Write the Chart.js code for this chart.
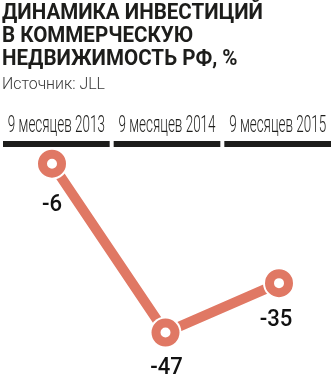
<!DOCTYPE html>
<html>
<head>
<meta charset="utf-8">
<script src="https://cdn.jsdelivr.net/npm/chart.js@4"></script>
<style>
  html, body { margin: 0; padding: 0; background: #fff; }
  #wrap { width: 335px; height: 384px; position: relative; }
</style>
</head>
<body>
<div id="wrap"><canvas id="chart" width="335" height="384"></canvas></div>
<script>
// данные графика
const categories = ['9 месяцев 2013', '9 месяцев 2014', '9 месяцев 2015'];
const investChange = [-6, -47, -35];
const titleLines = ['ДИНАМИКА ИНВЕСТИЦИЙ', 'В КОММЕРЧЕСКУЮ', 'НЕДВИЖИМОСТЬ РФ, %'];
const sourceText = 'Источник: JLL';

const ORANGE = '#e07864';
const INK = '#1d1d1b';

// текст, сжатый по горизонтали (узкий шрифт как в оригинале)
function drawSqueezed(ctx, text, x, y, font, sx, align) {
    ctx.save();
    ctx.font = font;
    ctx.textAlign = align || 'left';
    ctx.textBaseline = 'alphabetic';
    ctx.translate(x, y);
    ctx.scale(sx, 1);
    ctx.fillText(text, 0, 0);
    ctx.restore();
}

const decorPlugin = {
    id: 'decor',
    afterDraw(chart) {
        const ctx = chart.ctx;
        const W = chart.width;
        ctx.save();
        ctx.fillStyle = INK;

        // заголовок
        const titleFont = 'bold 22px Roboto, "DejaVu Sans", sans-serif';
        ctx.font = titleFont;
        const tsx = 261 / ctx.measureText(titleLines[0]).width;
        [19, 42, 65].forEach((y, i) => drawSqueezed(ctx, titleLines[i], 2, y, titleFont, tsx));

        // источник
        const srcFont = '300 17px Roboto, "DejaVu Sans", sans-serif';
        ctx.font = srcFont;
        ctx.fillStyle = '#3a3a3a';
        drawSqueezed(ctx, sourceText, 2, 89, srcFont, 103 / ctx.measureText(sourceText).width);

        // подписи периодов и чёрные полосы под ними
        const catFont = '300 24px Roboto, "DejaVu Sans", sans-serif';
        ctx.font = catFont;
        const csx = 97 / ctx.measureText(categories[0]).width;
        const cell = (W - 3) / 3;
        ctx.fillStyle = INK;
        for (let i = 0; i < categories.length; i++) {
            const x0 = 3 + i * cell;
            ctx.fillRect(x0, 141, cell - 4, 6);
            drawSqueezed(ctx, categories[i], x0 + (cell - 4) / 2, 132, catFont, csx, 'center');
        }

        // значения у точек
        const meta = chart.getDatasetMeta(0);
        const numFont = '500 24px Roboto, "DejaVu Sans", sans-serif';
        const offs = [[0, 47], [1, 41], [-3, 43]];
        ctx.fillStyle = '#111';
        meta.data.forEach((pt, i) => {
            drawSqueezed(ctx, String(investChange[i]), pt.x + offs[i][0], pt.y + offs[i][1], numFont, 0.92, 'center');
        });
        ctx.restore();
    }
};

new Chart(document.getElementById('chart'), {
    type: 'line',
    data: {
        labels: categories,
        datasets: [{
            // кружки
            data: investChange,
            showLine: false,
            pointRadius: 9.5,
            pointBorderWidth: 9,
            pointBackgroundColor: '#fff',
            pointBorderColor: ORANGE,
            order: 0
        }, {
            // белая обводка кружков
            data: investChange,
            showLine: false,
            pointRadius: 16,
            pointBorderWidth: 0,
            pointBackgroundColor: '#fff',
            order: 1
        }, {
            // линия
            data: investChange,
            borderColor: ORANGE,
            borderWidth: 10,
            pointRadius: 0,
            tension: 0,
            order: 2
        }]
    },
    options: {
        responsive: false,
        animation: false,
        layout: { padding: { left: 52, right: 56, top: 139, bottom: 7 } },
        plugins: {
            legend: { display: false },
            tooltip: { enabled: false },
            title: { display: false }
        },
        scales: {
            x: {
                display: false,
                offset: false
            },
            y: {
                display: false,
                min: -55,
                max: 0
            }
        }
    },
    plugins: [decorPlugin]
});
</script>
</body>
</html>
